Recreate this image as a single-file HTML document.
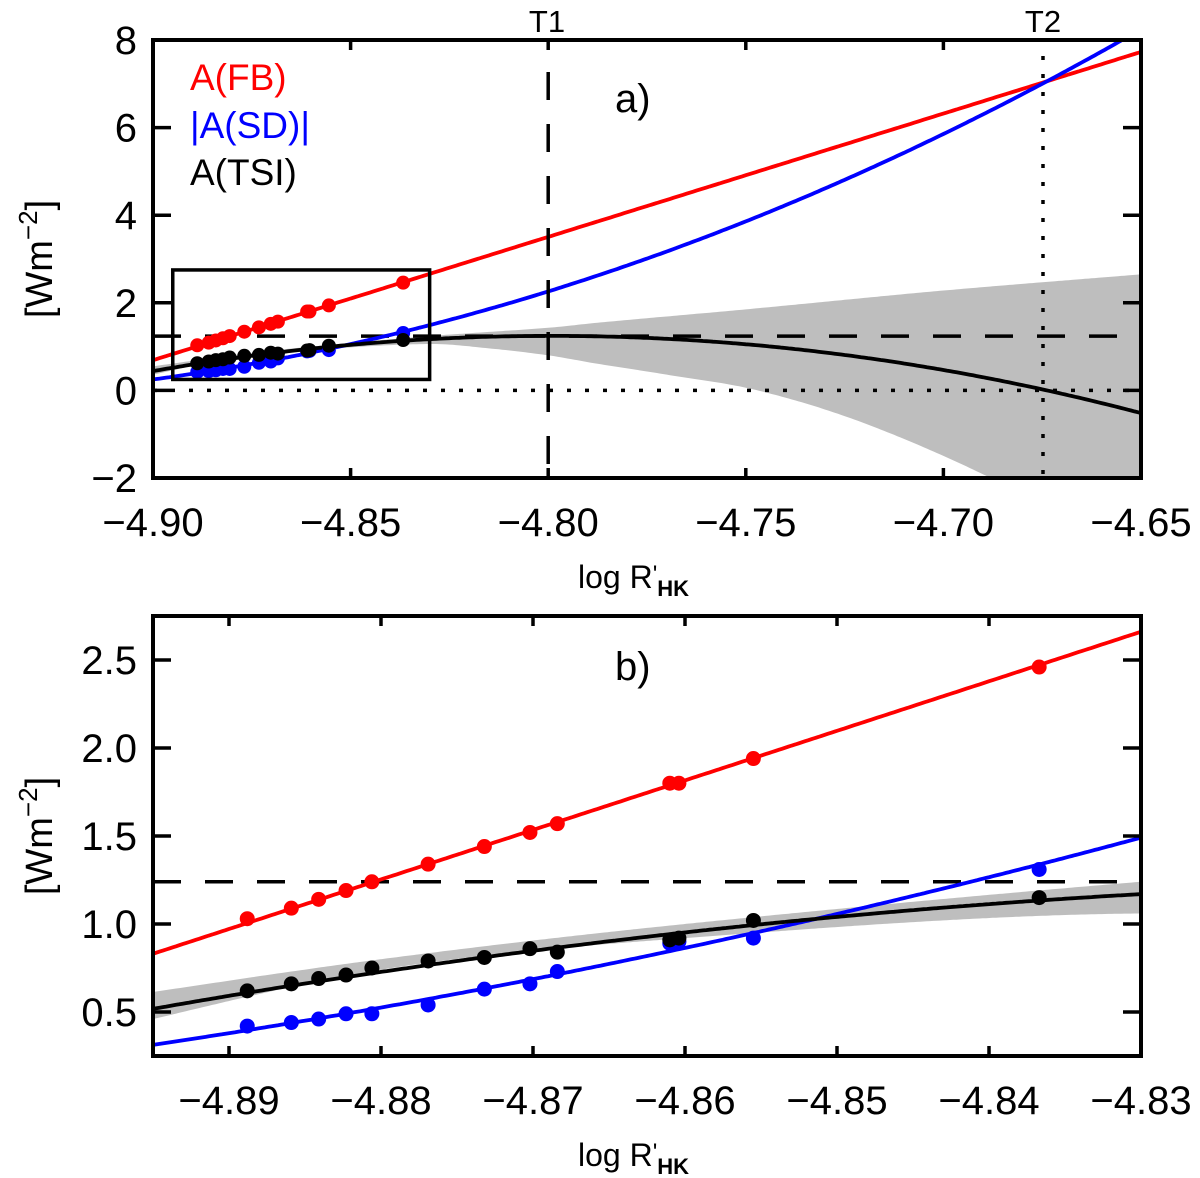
<!DOCTYPE html>
<html><head><meta charset="utf-8"><style>
html,body{margin:0;padding:0;background:#fff;}
svg{display:block;font-family:"Liberation Sans",sans-serif;}
</style></head><body>
<svg id="fig" width="1200" height="1178" viewBox="0 0 1200 1178">
<defs>
<clipPath id="clipA"><rect x="153" y="40" width="988" height="438"/></clipPath>
<clipPath id="clipB"><rect x="153" y="616" width="988" height="440"/></clipPath>
</defs>
<g id="pa"></g>
<g id="pb"></g>
</svg>
<script>
// ---- data ----
const obsX = [-4.8888,-4.8859,-4.8841,-4.8823,-4.8806,-4.8769,-4.8732,-4.8702,-4.8684,-4.8610,-4.8604,-4.8555,-4.8367];
const fbVals = [1.03,1.09,1.14,1.19,1.24,1.34,1.44,1.52,1.57,1.80,1.80,1.94,2.46];
const tsiVals = [0.62,0.66,0.69,0.71,0.75,0.79,0.81,0.86,0.84,0.91,0.92,1.02,1.15];
const sdVals = [0.42,0.44,0.46,0.49,0.49,0.54,0.63,0.66,0.73,0.89,0.90,0.92,1.31];
// fit coefficients in u = x + 4.9
const fbFit = [0.69, 28.15];
const sdFit = [0.25, 12.18, 79.2];
const bandHiX = [-4.90,-4.88,-4.86,-4.83,-4.80,-4.787,-4.75,-4.70,-4.65];
const bandHi = [0.55,0.80,1.00,1.24,1.43,1.55,1.85,2.28,2.65];
const bandLoX = [-4.90,-4.88,-4.86,-4.83,-4.815,-4.80,-4.787,-4.77,-4.747,-4.72,-4.688,-4.65];
const bandLo = [0.36,0.74,0.92,1.06,0.96,0.80,0.60,0.36,0.00,-0.75,-2.00,-3.8];
const threshold = 1.24;
const T1 = -4.80, T2 = -4.6748;
const ticksAx = [-4.90,-4.85,-4.80,-4.75,-4.70,-4.65];
const ticksAxLbl = ["\u22124.90","\u22124.85","\u22124.80","\u22124.75","\u22124.70","\u22124.65"];
const ticksAy = [-2,0,2,4,6,8];
const ticksAyLbl = ["\u22122","0","2","4","6","8"];
const ticksBx = [-4.89,-4.88,-4.87,-4.86,-4.85,-4.84,-4.83];
const ticksBxLbl = ["\u22124.89","\u22124.88","\u22124.87","\u22124.86","\u22124.85","\u22124.84","\u22124.83"];
const ticksBy = [0.5,1.0,1.5,2.0,2.5];
const ticksByLbl = ["0.5","1.0","1.5","2.0","2.5"];

const NS="http://www.w3.org/2000/svg";
function mk(parent,tag,attrs){const e=document.createElementNS(NS,tag);for(const k in attrs)e.setAttribute(k,attrs[k]);parent.appendChild(e);return e;}
function fb(x){const u=x+4.9;return fbFit[0]+fbFit[1]*u;}
function sd(x){const u=x+4.9;return sdFit[0]+sdFit[1]*u+sdFit[2]*u*u;}
function tsi(x){return fb(x)-sd(x);}
// Catmull-Rom style smooth interpolation through samples
function interp(xs,ys,x){
  let i=0;while(i<xs.length-2&&x>xs[i+1])i++;
  const t=(x-xs[i])/(xs[i+1]-xs[i]);
  const y0=ys[Math.max(i-1,0)],y1=ys[i],y2=ys[i+1],y3=ys[Math.min(i+2,ys.length-1)];
  const x0=xs[Math.max(i-1,0)],x1=xs[i],x2=xs[i+1],x3=xs[Math.min(i+2,xs.length-1)];
  const m1=(y2-y0)/((x2-x0)||1)*(x2-x1), m2=(y3-y1)/((x3-x1)||1)*(x2-x1);
  const t2=t*t,t3=t2*t;
  return (2*t3-3*t2+1)*y1+(t3-2*t2+t)*m1+(-2*t3+3*t2)*y2+(t3-t2)*m2;
}

function panel(g,cfg){
  const L=153,R=1141,T=cfg.top,B=cfg.bot;
  const sx=v=>L+(v-cfg.x0)/(cfg.x1-cfg.x0)*(R-L);
  const sy=v=>B-(v-cfg.y0)/(cfg.y1-cfg.y0)*(B-T);
  const cg=mk(g,'g',{'clip-path':'url(#'+cfg.clip+')'});
  let pts=[];const N=300;
  for(let i=0;i<=N;i++){const x=cfg.x0+(cfg.x1-cfg.x0)*i/N;pts.push(sx(x).toFixed(1)+','+sy(interp(bandHiX,bandHi,x)).toFixed(1));}
  for(let i=N;i>=0;i--){const x=cfg.x0+(cfg.x1-cfg.x0)*i/N;pts.push(sx(x).toFixed(1)+','+sy(interp(bandLoX,bandLo,x)).toFixed(1));}
  const band=mk(cg,'polygon',{points:pts.join(' '),fill:'#bebebe'});
  
  
  const hl=mk(cg,'line',{x1:L,x2:R,y1:sy(threshold),y2:sy(threshold),stroke:'#000','stroke-width':3.5,'stroke-dasharray':'28 24'});
  
  
  if(cfg.full){
    const z=mk(cg,'line',{x1:L,x2:R,y1:sy(0),y2:sy(0),stroke:'#000','stroke-width':3.5,'stroke-dasharray':'4 14'});
    
    
    const t1=mk(g,'line',{x1:sx(T1),x2:sx(T1),y1:T+32,y2:B,stroke:'#000','stroke-width':3.5,'stroke-dasharray':'28 24'});
    
    
    const t2=mk(g,'line',{x1:sx(T2),x2:sx(T2),y1:T+16,y2:B,stroke:'#000','stroke-width':3.5,'stroke-dasharray':'4 14'});
    
    
  }
  const series=[[fb,'#ff0000','fb-fit-line'],[sd,'#0000ff','sd-fit-line'],[tsi,'#000000','tsi-fit-line']];
  series.forEach(s=>{let d='';for(let i=0;i<=N;i++){const x=cfg.x0+(cfg.x1-cfg.x0)*i/N;d+=(i?'L':'M')+sx(x).toFixed(1)+','+sy(s[0](x)).toFixed(1);}
    const p=mk(cg,'path',{d:d,fill:'none',stroke:s[1],'stroke-width':3.8});
    
    });
  const dots=[[sdVals,'#0000ff','sd-point'],[fbVals,'#ff0000','fb-point'],[tsiVals,'#000000','tsi-point']];
  dots.forEach(s=>{obsX.forEach((x,i)=>{const c=mk(cg,'circle',{cx:sx(x),cy:sy(s[0][i]),r:cfg.r,fill:s[1]});
    
    });});
  if(cfg.full){
    const bx=mk(g,'rect',{x:sx(-4.895),y:sy(2.75),width:sx(-4.83)-sx(-4.895),height:sy(0.25)-sy(2.75),fill:'none',stroke:'#000','stroke-width':3.5});
    
    
  }
  const fr=mk(g,'rect',{x:L,y:T,width:R-L,height:B-T,fill:'none',stroke:'#000','stroke-width':4});
  
  
  cfg.xt.forEach((v,i)=>{const x=sx(v);
    mk(g,'line',{x1:x,x2:x,y1:B,y2:B-10,stroke:'#000','stroke-width':3.5});
    mk(g,'line',{x1:x,x2:x,y1:T,y2:T+10,stroke:'#000','stroke-width':3.5});
    const t=mk(g,'text',{x:x,y:B+58,'font-size':40,'text-anchor':'middle'});t.textContent=cfg.xl[i];
    
    });
  cfg.yt.forEach((v,i)=>{const y=sy(v);
    mk(g,'line',{x1:L,x2:L+18,y1:y,y2:y,stroke:'#000','stroke-width':3.5});
    mk(g,'line',{x1:R,x2:R-18,y1:y,y2:y,stroke:'#000','stroke-width':3.5});
    const t=mk(g,'text',{x:L-16,y:y+14,'font-size':40,'text-anchor':'end'});t.textContent=cfg.yl[i];
    
    });
  const xt=mk(g,'text',{x:578,y:B+110,'font-size':32});
  xt.innerHTML='log  R<tspan font-size="24" dy="-6">\'</tspan><tspan font-size="22" font-weight="bold" dy="14">HK</tspan>';
  
  
  const yc=(T+B)/2;
  const yt=mk(g,'text',{x:0,y:0,'font-size':38,'text-anchor':'middle',transform:'translate(52,'+yc+') rotate(-90)'});
  yt.innerHTML='[Wm<tspan font-size="26" dy="-15">\u22122</tspan><tspan dy="15">]</tspan>';
  
  
  const pl=mk(g,'text',{x:615,y:cfg.lblY,'font-size':40});pl.textContent=cfg.label;
  
  
}
const pa=document.getElementById('pa'),pb=document.getElementById('pb');
panel(pa,{top:40,bot:478,x0:-4.90,x1:-4.65,y0:-2,y1:8,clip:'clipA',full:true,r:7,xt:ticksAx,xl:ticksAxLbl,yt:ticksAy,yl:ticksAyLbl,label:'a)',lblY:112});
panel(pb,{top:616,bot:1056,x0:-4.895,x1:-4.83,y0:0.25,y1:2.75,clip:'clipB',full:false,r:7.5,xt:ticksBx,xl:ticksBxLbl,yt:ticksBy,yl:ticksByLbl,label:'b)',lblY:680});
[['A(FB)','#ff0000',90,'legend-fb'],['|A(SD)|','#0000ff',138,'legend-sd'],['A(TSI)','#000000',185,'legend-tsi']].forEach(l=>{
  const t=mk(pa,'text',{x:190,y:l[2],'font-size':37,fill:l[1]});t.textContent=l[0];
  
  });
[['T1',547,'t1-label'],['T2',1043,'t2-label']].forEach(l=>{
  const t=mk(pa,'text',{x:l[1],y:32,'font-size':31,'text-anchor':'middle'});t.textContent=l[0];
  
  });
</script>
</body></html>
